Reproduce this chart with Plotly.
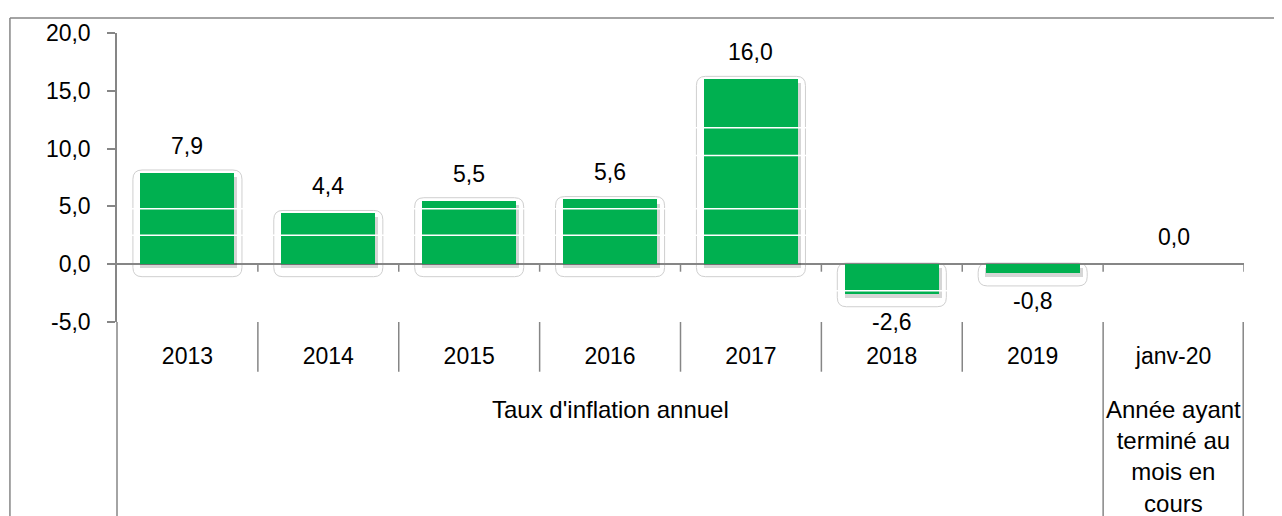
import plotly.graph_objects as go

# ---------------- data ----------------
categories = ["2013", "2014", "2015", "2016", "2017", "2018", "2019", "janv-20"]
values = [7.9, 4.4, 5.5, 5.6, 16.0, -2.6, -0.8, 0.0]
group_labels = ["Taux d'inflation annuel", "Année ayant<br>terminé au<br>mois en<br>cours"]
group_sizes = [7, 1]
y_tick_vals = [-5, 0, 5, 10, 15, 20]
y_tick_text = ["-5,0", "0,0", "5,0", "10,0", "15,0", "20,0"]
white_line_levels = [11.8, 9.4, 4.8, 2.5, -2.3]

FONT = "Liberation Sans, Arial, sans-serif"
GREEN = "#00B050"
GRAY = "#868686"


def fr(v):
    return f"{v:.1f}".replace(".", ",")


x = list(range(len(categories)))

fig = go.Figure()

# soft shadow under the bars
fig.add_trace(go.Bar(
    x=x, y=values, base=-0.35, width=0.69, offset=-0.335,
    marker=dict(color="rgba(0,0,0,0.16)", line=dict(width=0)),
    hoverinfo="skip", showlegend=False,
))
# main bars
fig.add_trace(go.Bar(
    x=x, y=values, width=0.667,
    marker=dict(color=GREEN, line=dict(width=0)),
    hoverinfo="skip", showlegend=False,
))

shapes = []


def rounded_rect(x0, x1, y0, y1, rx, ry):
    return (f"M {x0+rx},{y0} L {x1-rx},{y0} Q {x1},{y0} {x1},{y0+ry} "
            f"L {x1},{y1-ry} Q {x1},{y1} {x1-rx},{y1} L {x0+rx},{y1} "
            f"Q {x0},{y1} {x0},{y1-ry} L {x0},{y0+ry} Q {x0},{y0} {x0+rx},{y0} Z")


# rounded frames around the bars
half = 0.387
for xi, v in zip(x, values):
    if v == 0:
        continue
    if v > 0:
        top, bot = v + 0.25, -1.08
    else:
        top, bot = 0.1, v - 1.08
    shapes.append(dict(type="path", xref="x", yref="y", layer="below",
                       path=rounded_rect(xi - half, xi + half, bot, top, 0.065, 0.8),
                       line=dict(color="#cfcfcf", width=1), fillcolor="rgba(0,0,0,0)"))

# white lines crossing the bars
for lv in white_line_levels:
    shapes.append(dict(type="line", xref="paper", yref="y", layer="above",
                       x0=0.003, x1=1, y0=lv, y1=lv,
                       line=dict(color="white", width=1.5)))

# small ticks on the zero line at category boundaries
n = len(categories)
for b in range(n):
    shapes.append(dict(type="line", xref="x", yref="y", layer="above",
                       x0=b + 0.5, x1=b + 0.5, y0=0, y1=-0.65,
                       line=dict(color=GRAY, width=1.5)))

# dividers under the axis
start = 0
bottom_full = -0.75
for gsize in group_sizes:
    end = start + gsize
    for b in range(start, end - 1):
        shapes.append(dict(type="line", xref="x", yref="paper",
                           x0=b + 0.5, x1=b + 0.5, y0=0, y1=-0.172,
                           line=dict(color=GRAY, width=1.5)))
    xe = end - 0.5
    if end == n:
        shapes.append(dict(type="line", xref="paper", yref="paper",
                           x0=0.9993, x1=0.9993, y0=0, y1=bottom_full,
                           line=dict(color=GRAY, width=1.5)))
    else:
        shapes.append(dict(type="line", xref="x", yref="paper",
                           x0=xe, x1=xe, y0=0, y1=bottom_full,
                           line=dict(color=GRAY, width=1.5)))
    start = end
# continuation of the value axis line
shapes.append(dict(type="line", xref="paper", yref="paper",
                   x0=0, x1=0, y0=0, y1=bottom_full,
                   line=dict(color=GRAY, width=1.5)))
# outer chart border (top and left)
shapes.append(dict(type="line", xref="paper", yref="paper",
                   x0=-0.095, x1=1.1, y0=1.0515, y1=1.0515,
                   line=dict(color=GRAY, width=1.5)))
shapes.append(dict(type="line", xref="paper", yref="paper",
                   x0=-0.095, x1=-0.095, y0=1.0515, y1=-0.8,
                   line=dict(color=GRAY, width=1.5)))

annotations = []
for xi, v in zip(x, values):
    annotations.append(dict(x=xi, y=v, xref="x", yref="y", text=fr(v),
                            showarrow=False, yshift=27 if v >= 0 else -28,
                            font=dict(family=FONT, size=23, color="black")))
start = 0
for label, gsize in zip(group_labels, group_sizes):
    center = start + (gsize - 1) / 2
    if gsize > 1:
        annotations.append(dict(x=center, y=-0.303, xref="x", yref="paper",
                                text=label, showarrow=False, yanchor="middle",
                                font=dict(family=FONT, size=24, color="black")))
    else:
        annotations.append(dict(x=center, y=-0.25, xref="x", yref="paper",
                                text=label, showarrow=False, yanchor="top",
                                font=dict(family=FONT, size=24, color="black")))
    start += gsize

fig.update_layout(
    width=1282, height=516,
    margin=dict(l=109, r=46, t=22, b=202),
    paper_bgcolor="white", plot_bgcolor="white",
    barmode="overlay", bargap=0,
    showlegend=False,
    font=dict(family=FONT, size=23, color="black"),
    shapes=shapes, annotations=annotations,
    xaxis=dict(range=[-0.5, n - 0.5], tickmode="array", tickvals=x, ticktext=categories,
               showgrid=False, zeroline=False, showline=False,
               ticks="outside", ticklen=13, tickcolor="rgba(0,0,0,0)",
               tickfont=dict(family=FONT, size=23, color="black"),
               fixedrange=True),
    yaxis=dict(range=[-5, 20], tickmode="array", tickvals=y_tick_vals, ticktext=y_tick_text,
               showgrid=False, zeroline=True, zerolinecolor=GRAY, zerolinewidth=2,
               showline=True, linecolor=GRAY, linewidth=1.5,
               ticks="outside", ticklen=8, tickcolor=GRAY, tickwidth=1.5,
               ticklabelstandoff=12,
               tickfont=dict(family=FONT, size=23, color="black"),
               layer="above traces", fixedrange=True),
)

fig.write_html("out.html")
